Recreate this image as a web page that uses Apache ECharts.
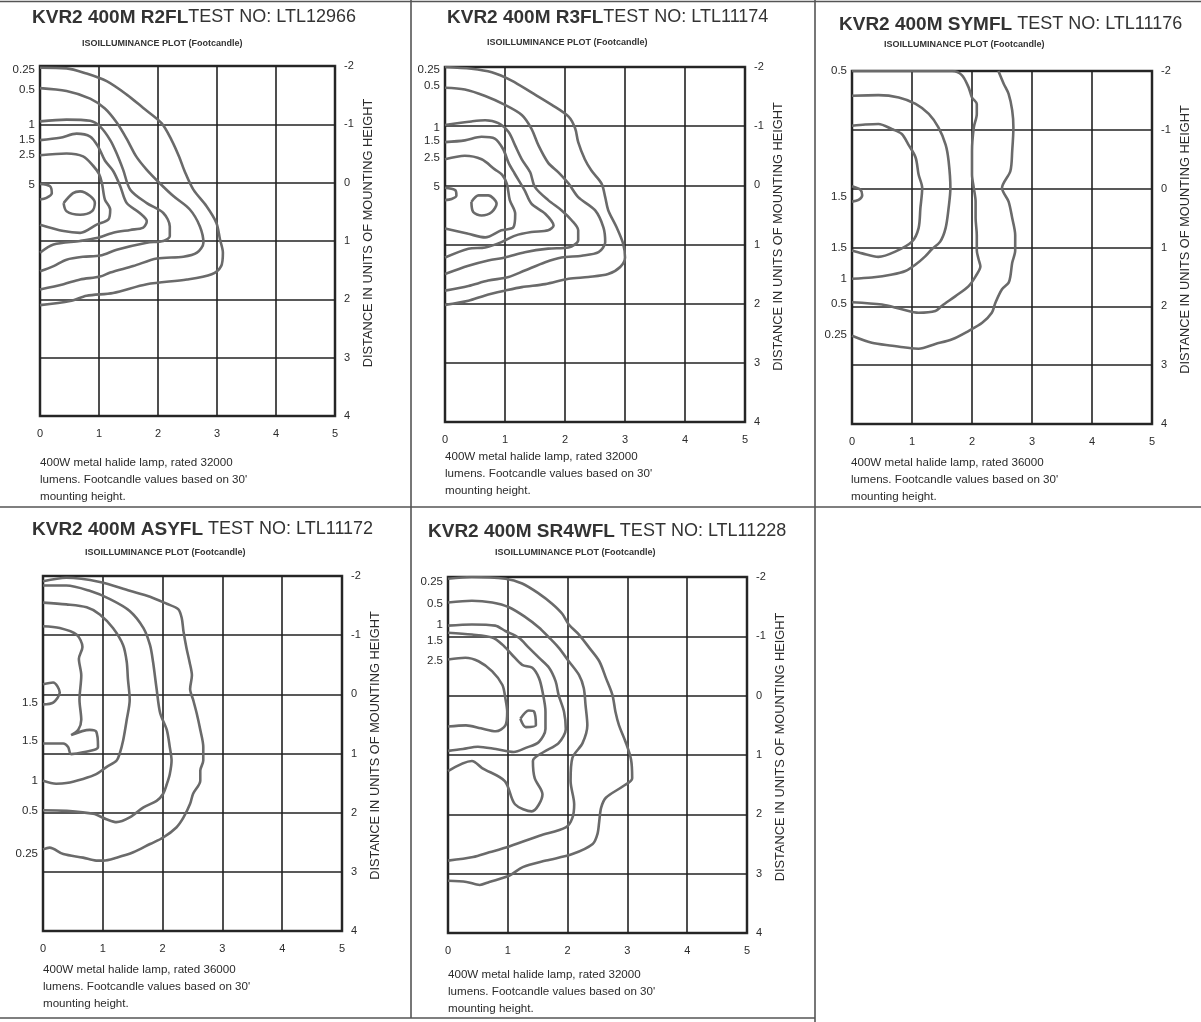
<!DOCTYPE html>
<html><head><meta charset="utf-8">
<script src="https://cdn.jsdelivr.net/npm/echarts@6/dist/echarts.min.js"></script>
<style>html,body{margin:0;padding:0;background:#fff}#c{width:1201px;height:1022px}</style>
</head><body><div id="c"></div>
<script>
// ---------- shared axis ticks ----------
const xMin = 0, xMax = 5;
const yMin = -2, yMax = 4;
const axisName = 'DISTANCE IN UNITS OF MOUNTING HEIGHT';
const subTitle = 'ISOILLUMINANCE PLOT (Footcandle)';

// ---------- panel 1 : R2FL ----------
const r2flName = 'KVR2 400M R2FL';
const r2flTest = 'TEST NO: LTL12966';
const r2flNote = "400W metal halide lamp, rated 32000\nlumens. Footcandle values based on 30'\nmounting height.";
const r2flLabelPos = [-1.93, -1.59, -0.99, -0.74, -0.48, 0.03];
const r2flLabelText = ['0.25', '0.5', '1', '1.5', '2.5', '5'];
const r2fl025 = [[0,-1.97],[0.45,-1.96],[0.79,-1.87],[1.13,-1.74],[1.47,-1.51],[1.75,-1.28],[2.06,-1.02],[2.23,-0.73],[2.36,-0.44],[2.45,-0.2],[2.6,0.12],[2.82,0.4],[2.99,0.69],[3.05,0.97],[3.1,1.2],[3.07,1.43],[2.91,1.57],[2.49,1.66],[1.81,1.74],[1.24,1.89],[0.79,1.94],[0.51,2.03],[0,2.1]];
const r2fl05 = [[0,-1.62],[0.45,-1.57],[0.85,-1.44],[1.1,-1.27],[1.3,-1.03],[1.47,-0.75],[1.63,-0.45],[1.81,-0.22],[2.03,0.01],[2.26,0.23],[2.54,0.46],[2.71,0.75],[2.77,1.03],[2.66,1.2],[2.43,1.27],[1.98,1.3],[1.58,1.43],[1.19,1.54],[1.02,1.61],[0.68,1.66],[0.4,1.74],[0,1.83]];
const r2fl1 = [[0,-1.05],[0.45,-1.08],[0.85,-1.06],[1.02,-0.96],[1.19,-0.73],[1.3,-0.5],[1.41,-0.22],[1.53,0.12],[1.81,0.35],[2.09,0.52],[2.2,0.75],[2.2,0.92],[2.09,1.0],[1.81,1.03],[1.3,1.15],[1.02,1.25],[0.73,1.27],[0.45,1.32],[0.23,1.43],[0,1.52]];
const r2fl15 = [[0,-0.73],[0.34,-0.77],[0.62,-0.84],[0.85,-0.79],[0.99,-0.61],[1.1,-0.38],[1.24,-0.2],[1.36,0.06],[1.47,0.35],[1.69,0.52],[1.81,0.66],[1.75,0.77],[1.53,0.81],[1.24,0.86],[0.96,0.95],[0.68,1.0],[0.23,1.06],[0,1.2]];
const r2fl25 = [[0,-0.47],[0.45,-0.5],[0.73,-0.45],[0.9,-0.29],[1.0,-0.15],[1.05,0.01],[1.1,0.29],[1.19,0.46],[1.16,0.63],[0.96,0.72],[0.68,0.86],[0.4,0.83],[0,0.72]];
const r2fl5a = [[0,0.02],[0.17,0.06],[0.2,0.18],[0.11,0.26],[0,0.29]];
const r2fl5b = [[0.4,0.35],[0.56,0.18],[0.68,0.15],[0.85,0.23],[0.93,0.35],[0.88,0.49],[0.68,0.55],[0.45,0.49],[0.4,0.35]];

// ---------- panel 2 : R3FL ----------
const r3flName = 'KVR2 400M R3FL';
const r3flTest = 'TEST NO: LTL11174';
const r3flNote = "400W metal halide lamp, rated 32000\nlumens. Footcandle values based on 30'\nmounting height.";
const r3flLabelPos = [-1.95, -1.68, -0.97, -0.76, -0.47, 0.03];
const r3flLabelText = ['0.25', '0.5', '1', '1.5', '2.5', '5'];
const r3fl025 = [[0,-2.0],[0.44,-1.97],[0.78,-1.91],[1.11,-1.77],[1.44,-1.57],[1.78,-1.36],[2.06,-1.16],[2.17,-0.96],[2.22,-0.73],[2.33,-0.44],[2.44,-0.25],[2.61,-0.03],[2.67,0.2],[2.72,0.42],[2.86,0.71],[2.97,0.99],[3.0,1.22],[2.92,1.38],[2.72,1.5],[2.39,1.55],[2.06,1.58],[1.67,1.67],[1.28,1.72],[1.0,1.78],[0.67,1.86],[0.39,1.95],[0,2.02]];
const r3fl05 = [[0,-1.65],[0.33,-1.62],[0.67,-1.51],[1.0,-1.36],[1.28,-1.19],[1.44,-0.96],[1.56,-0.67],[1.72,-0.38],[1.89,-0.22],[2.06,-0.03],[2.22,0.2],[2.5,0.42],[2.64,0.71],[2.67,0.96],[2.56,1.13],[2.28,1.19],[1.94,1.22],[1.67,1.3],[1.33,1.44],[1.06,1.55],[0.72,1.61],[0.39,1.7],[0,1.78]];
const r3fl1 = [[0,-1.02],[0.44,-1.08],[0.67,-1.1],[0.89,-1.05],[1.06,-0.9],[1.17,-0.67],[1.28,-0.44],[1.42,-0.22],[1.5,0.03],[1.72,0.25],[1.94,0.42],[2.11,0.59],[2.22,0.76],[2.22,0.93],[2.06,1.05],[1.72,1.07],[1.33,1.13],[1.0,1.22],[0.72,1.27],[0.39,1.36],[0,1.5]];
const r3fl15 = [[0,-0.73],[0.33,-0.76],[0.61,-0.82],[0.83,-0.79],[0.97,-0.61],[1.06,-0.38],[1.16,-0.2],[1.33,0.09],[1.44,0.31],[1.67,0.48],[1.81,0.68],[1.72,0.76],[1.44,0.79],[1.17,0.85],[0.94,0.96],[0.67,1.05],[0.39,1.07],[0,1.22]];
const r3fl25 = [[0,-0.44],[0.33,-0.5],[0.61,-0.44],[0.83,-0.27],[0.95,-0.18],[1.03,-0.03],[1.08,0.25],[1.17,0.48],[1.14,0.71],[0.94,0.76],[0.67,0.88],[0.39,0.82],[0,0.73]];
const r3fl5a = [[0,0.04],[0.17,0.08],[0.19,0.17],[0.11,0.23],[0,0.25]];
const r3fl5b = [[0.44,0.28],[0.56,0.17],[0.72,0.17],[0.86,0.31],[0.78,0.45],[0.61,0.51],[0.47,0.45],[0.44,0.28]];

// ---------- panel 3 : SYMFL ----------
const symflName = 'KVR2 400M SYMFL';
const symflTest = 'TEST NO: LTL11176';
const symflNote = "400W metal halide lamp, rated 36000\nlumens. Footcandle values based on 30'\nmounting height.";
const symflLabelPos = [-2.0, 0.14, 1.0, 1.53, 1.95, 2.49];
const symflLabelText = ['0.5', '1.5', '1.5', '1', '0.5', '0.25'];
const symfl025 = [[2.44,-2.0],[2.53,-1.78],[2.61,-1.61],[2.67,-1.33],[2.69,-1.04],[2.67,-0.64],[2.64,-0.3],[2.5,-0.01],[2.61,0.22],[2.67,0.5],[2.72,0.79],[2.72,1.05],[2.67,1.26],[2.64,1.49],[2.61,1.6],[2.5,1.71],[2.39,1.94],[2.33,2.11],[2.17,2.28],[1.94,2.42],[1.67,2.56],[1.39,2.64],[1.11,2.72],[0.89,2.7],[0.67,2.67],[0.33,2.62],[0,2.5]];
const symfl05 = [[0,-2.0],[1.67,-2.0],[1.83,-1.93],[1.94,-1.73],[2.0,-1.55],[2.08,-1.44],[2.08,-1.27],[2.03,-1.04],[2.0,-0.64],[2.0,-0.24],[2.03,-0.01],[2.06,0.22],[2.06,0.5],[2.08,0.79],[2.08,1.05],[2.11,1.2],[2.14,1.32],[2.06,1.49],[1.94,1.66],[1.72,1.83],[1.5,1.99],[1.39,2.08],[1.11,2.11],[0.83,2.05],[0.5,1.97],[0,1.93]];
const symfl1 = [[0,-1.58],[0.44,-1.59],[0.78,-1.55],[1.06,-1.44],[1.28,-1.27],[1.44,-1.04],[1.56,-0.75],[1.61,-0.47],[1.64,-0.01],[1.61,0.33],[1.56,0.67],[1.47,0.9],[1.33,1.03],[1.22,1.15],[1.06,1.29],[0.89,1.4],[0.67,1.46],[0.33,1.51],[0,1.53]];
const symfl15 = [[0,-1.07],[0.22,-1.09],[0.44,-1.1],[0.67,-1.01],[0.83,-0.93],[0.94,-0.75],[1.06,-0.53],[1.11,-0.24],[1.17,-0.01],[1.14,0.33],[1.11,0.67],[1.0,0.9],[0.72,1.07],[0.44,1.16],[0.17,1.1],[0,1.05]];
const symfl15b = [[0,-0.04],[0.14,0.02],[0.17,0.11],[0.11,0.19],[0,0.22]];

// ---------- panel 4 : ASYFL ----------
const asyflName = 'KVR2 400M ASYFL';
const asyflTest = 'TEST NO: LTL11172';
const asyflNote = "400W metal halide lamp, rated 36000\nlumens. Footcandle values based on 30'\nmounting height.";
const asyflLabelPos = [0.15, 0.78, 1.47, 1.97, 2.69];
const asyflLabelText = ['1.5', '1.5', '1', '0.5', '0.25'];
const asyfl025 = [[0,-1.91],[0.39,-1.97],[0.95,-1.9],[1.45,-1.75],[1.79,-1.65],[2.07,-1.53],[2.26,-1.44],[2.32,-1.29],[2.35,-1.06],[2.4,-0.78],[2.45,-0.55],[2.49,-0.32],[2.46,-0.09],[2.51,0.09],[2.57,0.32],[2.63,0.6],[2.68,0.89],[2.68,1.12],[2.63,1.29],[2.63,1.46],[2.51,1.68],[2.46,1.85],[2.35,2.08],[2.23,2.25],[2.01,2.42],[1.79,2.53],[1.51,2.67],[1.23,2.76],[1.01,2.81],[0.89,2.81],[0.67,2.76],[0.34,2.7],[0.11,2.59],[0,2.62]];
const asyfl05 = [[0,-1.84],[0.39,-1.84],[0.78,-1.75],[1.12,-1.61],[1.45,-1.41],[1.68,-1.12],[1.79,-0.83],[1.84,-0.55],[1.9,-0.09],[1.96,0.32],[2.07,0.6],[2.12,0.89],[2.15,1.12],[2.12,1.35],[2.07,1.52],[2.01,1.68],[1.9,1.8],[1.68,1.91],[1.45,2.08],[1.23,2.16],[1.06,2.11],[0.84,2.02],[0.39,1.97],[0,1.96]];
const asyfl1 = [[0,-1.55],[0.39,-1.52],[0.73,-1.47],[0.95,-1.35],[1.17,-1.12],[1.34,-0.83],[1.4,-0.55],[1.42,-0.26],[1.45,0.09],[1.4,0.43],[1.34,0.78],[1.28,1.01],[1.23,1.12],[1.06,1.23],[0.89,1.35],[0.67,1.43],[0.39,1.5],[0.22,1.51],[0,1.46]];
const asyfl15 = [[0,-1.15],[0.28,-1.12],[0.56,-1.01],[0.66,-0.8],[0.6,-0.6],[0.64,-0.32],[0.61,0.09],[0.64,0.43],[0.59,0.6],[0.47,0.69],[0.78,0.6],[0.89,0.63],[0.92,0.89],[0.67,0.98],[0.47,1.01],[0.42,0.89],[0.34,0.83],[0,0.83]];
const asyfl15b = [[0,-0.17],[0.17,-0.2],[0.28,-0.03],[0.17,0.14],[0,0.17]];

// ---------- panel 5 : SR4WFL ----------
const sr4wflName = 'KVR2 400M SR4WFL';
const sr4wflTest = 'TEST NO: LTL11228';
const sr4wflNote = "400W metal halide lamp, rated 32000\nlumens. Footcandle values based on 30'\nmounting height.";
const sr4wflLabelPos = [-1.92, -1.54, -1.19, -0.92, -0.59];
const sr4wflLabelText = ['0.25', '0.5', '1', '1.5', '2.5'];
const sr4wfl025 = [[0,-1.97],[0.4,-2.0],[0.96,-1.97],[1.24,-1.89],[1.52,-1.72],[1.74,-1.55],[1.91,-1.38],[2.02,-1.2],[2.19,-1.03],[2.36,-0.81],[2.53,-0.58],[2.64,-0.3],[2.75,-0.01],[2.8,0.27],[2.86,0.5],[2.97,0.78],[3.06,1.07],[3.08,1.39],[2.92,1.53],[2.64,1.72],[2.56,1.89],[2.53,2.11],[2.5,2.33],[2.42,2.5],[2.08,2.67],[1.64,2.78],[1.25,2.89],[1.03,3.03],[0.69,3.14],[0.53,3.19],[0.31,3.14],[0,3.12]];
const sr4wfl05 = [[0,-1.57],[0.4,-1.6],[0.74,-1.57],[1.02,-1.49],[1.3,-1.32],[1.52,-1.15],[1.69,-0.98],[1.85,-0.81],[2.02,-0.58],[2.19,-0.35],[2.27,-0.13],[2.3,0.16],[2.33,0.5],[2.25,0.8],[2.08,1.05],[2.05,1.44],[2.11,1.83],[2.08,2.06],[1.97,2.22],[1.53,2.36],[0.97,2.56],[0.69,2.64],[0.42,2.72],[0,2.78]];
const sr4wfl1 = [[0,-1.18],[0.4,-1.2],[0.79,-1.18],[0.96,-1.09],[1.18,-0.98],[1.35,-0.81],[1.52,-0.64],[1.69,-0.47],[1.8,-0.24],[1.85,-0.01],[1.94,0.27],[1.97,0.56],[1.85,0.8],[1.6,0.95],[1.42,1.1],[1.45,1.39],[1.58,1.66],[1.4,1.95],[1.12,1.83],[0.95,1.44],[0.57,1.22],[0.4,1.1],[0,1.27]];
const sr4wfl15 = [[0,-1.06],[0.4,-1.03],[0.74,-0.98],[0.91,-0.86],[1.07,-0.69],[1.24,-0.52],[1.41,-0.47],[1.52,-0.3],[1.58,-0.07],[1.63,0.27],[1.63,0.56],[1.52,0.78],[1.3,0.88],[1.1,0.95],[0.8,0.9],[0.5,0.86],[0.25,0.9],[0,0.93]];
const sr4wfl25 = [[0,-0.61],[0.29,-0.64],[0.51,-0.58],[0.74,-0.41],[0.91,-0.18],[0.96,0.05],[0.99,0.27],[0.96,0.5],[0.8,0.6],[0.55,0.55],[0.3,0.5],[0,0.52]];
const sr4wfl5 = [[1.21,0.39],[1.35,0.25],[1.44,0.27],[1.47,0.5],[1.3,0.53],[1.21,0.39]];

// ---------- assemble ----------
const panels = [
  {name:r2flName, test:r2flTest, note:r2flNote, lp:r2flLabelPos, lt:r2flLabelText, lines:[r2fl025,r2fl05,r2fl1,r2fl15,r2fl25,r2fl5a,r2fl5b], gap:''},
  {name:r3flName, test:r3flTest, note:r3flNote, lp:r3flLabelPos, lt:r3flLabelText, lines:[r3fl025,r3fl05,r3fl1,r3fl15,r3fl25,r3fl5a,r3fl5b], gap:''},
  {name:symflName, test:symflTest, note:symflNote, lp:symflLabelPos, lt:symflLabelText, lines:[symfl025,symfl05,symfl1,symfl15,symfl15b], gap:' '},
  {name:asyflName, test:asyflTest, note:asyflNote, lp:asyflLabelPos, lt:asyflLabelText, lines:[asyfl025,asyfl05,asyfl1,asyfl15,asyfl15b], gap:' '},
  {name:sr4wflName, test:sr4wflTest, note:sr4wflNote, lp:sr4wflLabelPos, lt:sr4wflLabelText, lines:[sr4wfl025,sr4wfl05,sr4wfl1,sr4wfl15,sr4wfl25,sr4wfl5], gap:' '}
];

// layout (pixels)
const layout = [
  {g:[40,66,295,350],  t:[32,8],   s:[82,39],  n:[40,454]},
  {g:[445,67,300,355], t:[447,8],  s:[487,38], n:[445,448]},
  {g:[852,71,300,353], t:[839,15], s:[884,40], n:[851,454]},
  {g:[43,576,299,355], t:[32,520], s:[85,548], n:[43,961]},
  {g:[448,577,299,356],t:[428,522],s:[495,548],n:[448,966]}
];

const FONT = '"Liberation Sans", Arial, Helvetica, sans-serif';
const INK = '#2b2b2b';
const LINE = '#6a6a6a';

const grid = [], xAxis = [], yAxis = [], series = [], title = [];
panels.forEach((p, i) => {
  const L = layout[i];
  grid.push({left:L.g[0], top:L.g[1], width:L.g[2], height:L.g[3], show:true,
    borderColor:'#333', borderWidth:2.5, backgroundColor:'transparent'});
  xAxis.push({type:'value', gridIndex:i, min:xMin, max:xMax, interval:1,
    axisLine:{show:false}, axisTick:{show:false},
    splitLine:{show:true, lineStyle:{color:'#222', width:1.6}},
    axisLabel:{margin:12, fontSize:11, color:INK, fontFamily:FONT}});
  // right axis: distances
  yAxis.push({type:'value', gridIndex:i, position:'right', inverse:true, min:yMin, max:yMax, interval:1,
    axisLine:{show:false}, axisTick:{show:false},
    splitLine:{show:true, lineStyle:{color:'#222', width:1.6}},
    axisLabel:{margin:9, fontSize:11, color:INK, fontFamily:FONT},
    name:axisName, nameLocation:'middle', nameRotate:90, nameGap:27,
    nameTextStyle:{fontSize:12.8, color:INK, fontFamily:FONT, padding:[0,0,0,16]}});
  // left axis: contour value labels
  const lp = p.lp, lt = p.lt;
  yAxis.push({type:'value', gridIndex:i, position:'left', inverse:true, min:yMin, max:yMax,
    axisLine:{show:false}, axisTick:{show:false}, splitLine:{show:false},
    axisLabel:{margin:5, fontSize:11.5, color:INK, fontFamily:FONT, customValues:lp,
      formatter:function(v){ for (let k=0;k<lp.length;k++){ if (Math.abs(lp[k]-v)<1e-9) return lt[k]; } return ''; }}});
  p.lines.forEach(pts => {
    series.push({type:'line', xAxisIndex:i, yAxisIndex:2*i, data:pts, symbol:'none', showSymbol:false,
      smooth:0.3, silent:true, clip:true, z:3,
      lineStyle:{color:LINE, width:2.6}});
  });
  title.push({text:'{b|'+p.name+'}{n|'+p.gap+p.test+'}', left:L.t[0], top:L.t[1], padding:0,
    textStyle:{rich:{
      b:{fontFamily:FONT, fontWeight:'bold', fontSize:19, color:'#333'},
      n:{fontFamily:FONT, fontWeight:'normal', fontSize:18, color:'#333'}}}});
  title.push({text:subTitle, left:L.s[0], top:L.s[1], padding:0,
    textStyle:{fontFamily:FONT, fontWeight:'bold', fontSize:9, color:'#333'}});
  title.push({text:p.note, left:L.n[0], top:L.n[1], padding:0,
    textStyle:{fontFamily:FONT, fontWeight:'normal', fontSize:11.6, lineHeight:17, color:INK}});
});

// page frame lines
const frame = [
  [0,1.5,1201,1.5],[0,507,1201,507],[411,0,411,1018],[815,0,815,1022],[0,1018,815,1018]
].map(s => ({type:'line', shape:{x1:s[0],y1:s[1],x2:s[2],y2:s[3]}, style:{stroke:'#555', lineWidth:1.6}, silent:true}));

const chart = echarts.init(document.getElementById('c'), null, {renderer:'canvas'});
chart.setOption({
  animation:false, backgroundColor:'#fff',
  title, grid, xAxis, yAxis, series,
  graphic:frame
});
</script>
</body></html>
